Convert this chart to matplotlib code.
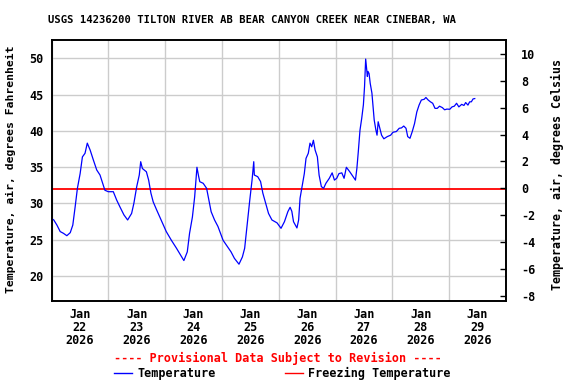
import numpy as np
import matplotlib
matplotlib.use("Agg")
import matplotlib.pyplot as plt
import matplotlib.dates as mdates
from matplotlib.lines import Line2D
import datetime as dt

# ---- data ----
start_date = dt.datetime(2026, 1, 22)
day_offsets = [0.0, 0.04, 0.095, 0.153, 0.21, 0.27, 0.33, 0.375, 0.416, 0.456, 0.504, 0.544,
               0.59, 0.63, 0.68, 0.737, 0.796, 0.854, 0.9, 0.94, 1.0, 1.088, 1.147, 1.205,
               1.275, 1.34, 1.41, 1.45, 1.5, 1.545, 1.57, 1.6, 1.67, 1.71, 1.75, 1.79, 1.85,
               1.94, 2.02, 2.11, 2.2, 2.27, 2.33, 2.39, 2.43, 2.48, 2.52, 2.56, 2.59, 2.61,
               2.67, 2.73, 2.77, 2.81, 2.87, 2.93, 3.02, 3.1, 3.16, 3.22, 3.3, 3.36, 3.4,
               3.44, 3.49, 3.53, 3.56, 3.57, 3.63, 3.68, 3.72, 3.77, 3.82, 3.88, 3.97, 4.04,
               4.1, 4.16, 4.2, 4.23, 4.26, 4.32, 4.35, 4.375, 4.41, 4.45, 4.48, 4.52, 4.55,
               4.58, 4.61, 4.64, 4.68, 4.71, 4.75, 4.79, 4.83, 4.89, 4.94, 4.98, 5.02, 5.06,
               5.11, 5.15, 5.19, 5.25, 5.31, 5.35, 5.375, 5.4, 5.43, 5.46, 5.49, 5.51, 5.53,
               5.56, 5.57, 5.59, 5.61, 5.64, 5.66, 5.68, 5.71, 5.73, 5.75, 5.78, 5.81, 5.85,
               5.91, 5.97, 6.01, 6.07, 6.12, 6.16, 6.2, 6.24, 6.27, 6.31, 6.35, 6.39, 6.43,
               6.47, 6.51, 6.56, 6.59, 6.63, 6.67, 6.71, 6.75, 6.79, 6.83, 6.88, 6.92, 6.96,
               7.01, 7.05, 7.09, 7.13, 7.17, 7.22, 7.26, 7.29, 7.33, 7.36, 7.39, 7.42, 7.45]
temp_f = [27.9, 27.7, 27.0, 26.1, 25.86, 25.53, 25.95, 27.0, 29.5, 32.07, 34.1, 36.4,
          36.9, 38.3, 37.35, 35.97, 34.6, 33.9, 32.76, 31.8, 31.6, 31.6, 30.45, 29.5,
          28.4, 27.7, 28.6, 30.0, 32.3, 33.9, 35.74, 34.8, 34.35, 33.2, 31.4, 30.2, 29.1,
          27.5, 26.1, 24.9, 23.8, 22.9, 22.1, 23.3, 25.86, 28.1, 30.9, 34.97, 33.7, 32.98,
          32.76, 32.07, 30.45, 28.84, 27.7, 26.8, 24.9, 24.0, 23.3, 22.4, 21.6, 22.6, 23.8,
          26.8, 30.45, 33.2, 35.74, 33.9, 33.67, 33.0, 31.4, 30.0, 28.6, 27.7, 27.3, 26.55,
          27.46, 28.84, 29.45, 28.9, 27.46, 26.6, 27.7, 30.7, 32.3, 34.1, 36.2, 36.9, 38.3,
          37.8, 38.7, 37.35, 36.4, 33.9, 32.3, 32.07, 32.76, 33.45, 34.2, 33.2, 33.45, 34.1,
          34.2, 33.45, 34.97, 34.35, 33.67, 33.2, 34.8, 37.1, 40.1, 41.7, 43.6, 46.1, 49.9,
          47.5, 48.2, 47.9, 46.55, 45.2, 43.3, 41.5, 40.1, 39.4, 41.25, 40.35, 39.4, 38.9,
          39.2, 39.4, 39.8, 39.9, 40.35, 40.4, 40.66, 40.35, 39.2, 38.97, 39.9, 41.0, 42.6,
          43.55, 44.25, 44.35, 44.6, 44.25, 44.0, 43.8, 43.1, 43.1, 43.4, 43.2, 42.9, 43.0,
          42.97, 43.3, 43.4, 43.8, 43.3, 43.65, 43.5, 43.9, 43.55, 44.0, 44.0, 44.4, 44.45]
freezing_f = 32.0
left_ticks = [20, 25, 30, 35, 40, 45, 50]
right_ticks = [-8, -6, -4, -2, 0, 2, 4, 6, 8, 10]
title = "USGS 14236200 TILTON RIVER AB BEAR CANYON CREEK NEAR CINEBAR, WA"
left_label = "Temperature, air, degrees Fahrenheit"
right_label = "Temperature, air, degrees Celsius"
provisional = "---- Provisional Data Subject to Revision ----"
legend_labels = ["Temperature", "Freezing Temperature"]

times = [start_date + dt.timedelta(days=d) for d in day_offsets]

FONT = "DejaVu Sans Mono"
W, H = 576, 384
fig = plt.figure(figsize=(W / 100, H / 100), dpi=100)
ax = fig.add_axes([51.5 / W, 1 - 300.5 / H, (506 - 51.5) / W, (300.5 - 40) / H])

ax.plot(times, temp_f, color="#0000ff", lw=0.9, zorder=3)
ax.axhline(freezing_f, color="#ff0000", lw=1.3, zorder=2)

ax.set_ylim(16.59, 52.53)
ax.set_xlim(start_date, start_date + dt.timedelta(days=8))
ax.set_yticks(left_ticks)
ax.set_yticklabels([str(v) for v in left_ticks], family=FONT, weight="bold", fontsize=8.5)
ax.tick_params(axis="y", length=0, pad=6)

ax.xaxis.set_major_locator(mdates.DayLocator())
ax.xaxis.set_major_formatter(plt.NullFormatter())
ax.xaxis.set_minor_locator(mdates.HourLocator(byhour=[12]))
ax.xaxis.set_minor_formatter(mdates.DateFormatter("%b\n%d\n%Y"))
ax.tick_params(axis="x", which="both", length=0)
ax.tick_params(axis="x", which="minor", pad=5.5)
for lab in ax.get_xticklabels(minor=True):
    lab.set_family(FONT)
    lab.set_weight("bold")
    lab.set_fontsize(8.5)
    lab.set_linespacing(0.98)

ax.grid(True, which="major", color="#cccccc", lw=1.0, zorder=0)
for s in ax.spines.values():
    s.set_linewidth(1.2)
    s.set_color("black")

# right axis in Celsius
ax2 = ax.twinx()
ax2.set_ylim(-8.37, 11.05)
ax2.set_yticks(right_ticks)
ax2.set_yticklabels([str(v) for v in right_ticks], family=FONT, weight="bold", fontsize=8.5)
ax2.tick_params(axis="y", direction="in", length=4, width=1, pad=11)
for s in ax2.spines.values():
    s.set_linewidth(1.2)

fig.text(252 / W, 1 - 20.5 / H, title, ha="center", va="center",
         family=FONT, weight="bold", fontsize=7.6)
fig.text(11 / W, 1 - 169 / H, left_label, ha="center", va="center", rotation=90,
         family=FONT, weight="bold", fontsize=8.2)
fig.text(557.5 / W, 1 - 175 / H, right_label, ha="center", va="center", rotation=90,
         family=FONT, weight="bold", fontsize=8.4)

fig.text(277.5 / W, 1 - 358.5 / H, provisional, ha="center", va="center", color="#ff0000",
         family=FONT, weight="bold", fontsize=8.5)
ly = 1 - 373 / H
fig.add_artist(Line2D([114 / W, 132 / W], [ly, ly], color="#0000ff", lw=1.0))
fig.text(138 / W, ly, legend_labels[0], ha="left", va="center",
         family=FONT, weight="bold", fontsize=8.5)
fig.add_artist(Line2D([285 / W, 303 / W], [ly, ly], color="#ff0000", lw=1.0))
fig.text(308 / W, ly, legend_labels[1], ha="left", va="center",
         family=FONT, weight="bold", fontsize=8.5)

fig.savefig("out.png", dpi=100)
